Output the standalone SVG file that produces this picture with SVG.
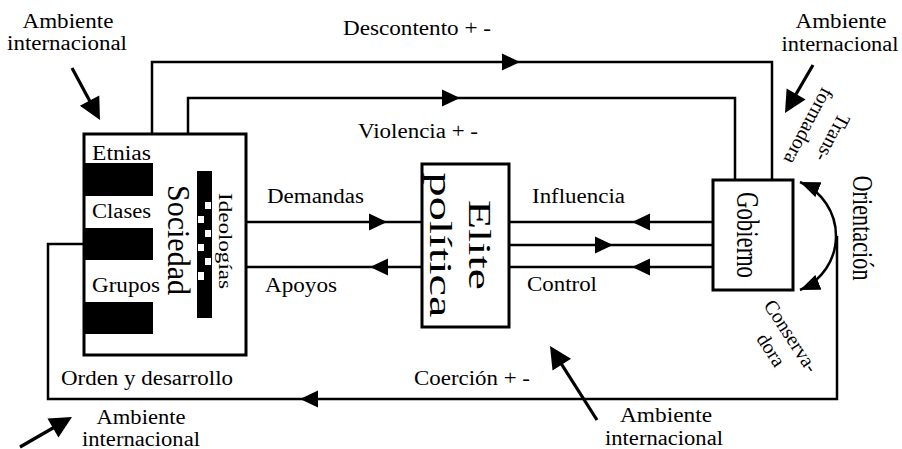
<svg xmlns="http://www.w3.org/2000/svg" xmlns:xlink="http://www.w3.org/1999/xlink" width="902" height="449" viewBox="0 0 902 449">
<style>
.ln{fill:none;stroke:#000;stroke-width:2.5}
.bl{fill:none;stroke:#000;stroke-width:3.2}
.box{fill:#fff;stroke:#000;stroke-width:3}
.t{font-family:"Liberation Serif","Times New Roman",serif;font-size:20px;fill:#000}
.c{text-anchor:middle}
</style>
<defs>
<path id="ah" d="M0,0 L-18,-8.5 L-18,8.5 Z" fill="#000"/>
<path id="bah" d="M0,0 L-22,-11 L-22,11 Z" fill="#000"/>
<marker id="am" viewBox="0 0 20 16" refX="20" refY="8" markerWidth="20" markerHeight="16" markerUnits="userSpaceOnUse" orient="auto-start-reverse"><path d="M0,0 L20,8 L0,16 Z" fill="#000"/></marker>
</defs>
<rect width="902" height="449" fill="#fff"/>

<g id="connectors">
<path class="ln" d="M152,134 V62 H772 V180"/>
<path class="ln" d="M188,134 V98 H735 V180"/>
<path class="ln" d="M246,222 H422"/>
<path class="ln" d="M422,267 H246"/>
<path class="ln" d="M509,222 H713"/>
<path class="ln" d="M509,245 H713"/>
<path class="ln" d="M509,267 H713"/>
<path class="ln" d="M837,236 V399 H48 V244 H84"/>
<path class="ln" d="M800,290 A58.5,58.5 0 0 0 800,182" marker-start="url(#am)" marker-end="url(#am)"/>
<use xlink:href="#ah" transform="translate(520,62)"/>
<use xlink:href="#ah" transform="translate(460,98)"/>
<use xlink:href="#ah" transform="translate(387,222)"/>
<use xlink:href="#ah" transform="translate(370,267) rotate(180)"/>
<use xlink:href="#ah" transform="translate(632,222) rotate(180)"/>
<use xlink:href="#ah" transform="translate(613,245)"/>
<use xlink:href="#ah" transform="translate(632,267) rotate(180)"/>
<use xlink:href="#ah" transform="translate(300,399) rotate(180)"/>
</g>

<g id="ambiente-arrows">
<line class="bl" x1="72" y1="68" x2="93" y2="107"/>
<use xlink:href="#bah" transform="translate(100,120) rotate(61.7)"/>
<line class="bl" x1="813" y1="65" x2="792.6" y2="100"/>
<use xlink:href="#bah" transform="translate(785,113) rotate(120.3)"/>
<line class="bl" x1="20" y1="447" x2="59" y2="424.5"/>
<use xlink:href="#bah" transform="translate(72,417) rotate(-30)"/>
<line class="bl" x1="597" y1="420" x2="558" y2="358.7"/>
<use xlink:href="#bah" transform="translate(550,346) rotate(-122.4)"/>
</g>

<g id="sociedad">
<rect class="box" x="84" y="134" width="162" height="221"/>
<rect x="84" y="163" width="69" height="33" fill="#000"/>
<rect x="84" y="228" width="69" height="32" fill="#000"/>
<rect x="84" y="302" width="69" height="32" fill="#000"/>
<text class="t" x="92" y="160" textLength="59" lengthAdjust="spacingAndGlyphs">Etnias</text>
<text class="t" x="92" y="218" textLength="59" lengthAdjust="spacingAndGlyphs">Clases</text>
<text class="t" x="92" y="292" textLength="68" lengthAdjust="spacingAndGlyphs">Grupos</text>
<rect x="197" y="171" width="15" height="147" fill="#000"/>
<g fill="#fff">
<rect x="205" y="202" width="6" height="7"/>
<rect x="198" y="216" width="6" height="7"/>
<rect x="205" y="230" width="6" height="7"/>
<rect x="198" y="244" width="6" height="7"/>
<rect x="205" y="258" width="6" height="7"/>
<rect x="198" y="272" width="6" height="8"/>
</g>
<text class="t c" transform="translate(168,240) rotate(90)" style="font-size:32px" textLength="110" lengthAdjust="spacingAndGlyphs">Sociedad</text>
<text class="t c" transform="translate(219,241) rotate(90)" style="font-size:18px" textLength="96" lengthAdjust="spacingAndGlyphs">Ideologías</text>
</g>

<g id="elite">
<rect class="box" x="422" y="164" width="87" height="163"/>
<text class="t c" transform="translate(469,245) rotate(90)" style="font-size:32px" textLength="90" lengthAdjust="spacingAndGlyphs">Elite</text>
<text class="t c" transform="translate(430,245) rotate(90)" style="font-size:31px" textLength="145" lengthAdjust="spacingAndGlyphs">política</text>
</g>

<g id="gobierno">
<rect class="box" x="713" y="180" width="80" height="110"/>
<text class="t c" transform="translate(737,235) rotate(90)" style="font-size:32px" textLength="86" lengthAdjust="spacingAndGlyphs">Gobierno</text>
</g>

<g id="labels">
<text class="t" x="343" y="35" textLength="148" lengthAdjust="spacingAndGlyphs">Descontento + -</text>
<text class="t" x="358" y="138" textLength="120" lengthAdjust="spacingAndGlyphs">Violencia + -</text>
<text class="t" x="267" y="203" textLength="97" lengthAdjust="spacingAndGlyphs">Demandas</text>
<text class="t" x="265" y="292" textLength="72" lengthAdjust="spacingAndGlyphs">Apoyos</text>
<text class="t" x="532" y="203" textLength="93" lengthAdjust="spacingAndGlyphs">Influencia</text>
<text class="t" x="527" y="291" textLength="70" lengthAdjust="spacingAndGlyphs">Control</text>
<text class="t" x="61" y="385" textLength="172" lengthAdjust="spacingAndGlyphs">Orden y desarrollo</text>
<text class="t" x="414" y="385" textLength="116" lengthAdjust="spacingAndGlyphs">Coerción + -</text>
<text class="t c" x="68" y="28" textLength="91" lengthAdjust="spacingAndGlyphs">Ambiente</text>
<text class="t c" x="67" y="50" textLength="120" lengthAdjust="spacingAndGlyphs">internacional</text>
<text class="t c" x="841" y="28" textLength="91" lengthAdjust="spacingAndGlyphs">Ambiente</text>
<text class="t c" x="840" y="51" textLength="117" lengthAdjust="spacingAndGlyphs">internacional</text>
<text class="t c" x="141" y="424" textLength="89" lengthAdjust="spacingAndGlyphs">Ambiente</text>
<text class="t c" x="141" y="446" textLength="118" lengthAdjust="spacingAndGlyphs">internacional</text>
<text class="t c" x="666" y="422" textLength="92" lengthAdjust="spacingAndGlyphs">Ambiente</text>
<text class="t c" x="664" y="445" textLength="118" lengthAdjust="spacingAndGlyphs">internacional</text>
<text class="t c" transform="translate(827,135) rotate(118)">Trans-</text>
<text class="t c" transform="translate(803,123) rotate(118)">formadora</text>
<text class="t c" transform="translate(785.5,339.6) rotate(57)">Conserva-</text>
<text class="t c" transform="translate(765.5,353.6) rotate(57)">dora</text>
<text class="t c" transform="translate(853,228) rotate(90)" style="font-size:30px" textLength="105" lengthAdjust="spacingAndGlyphs">Orientación</text>
</g>
</svg>
